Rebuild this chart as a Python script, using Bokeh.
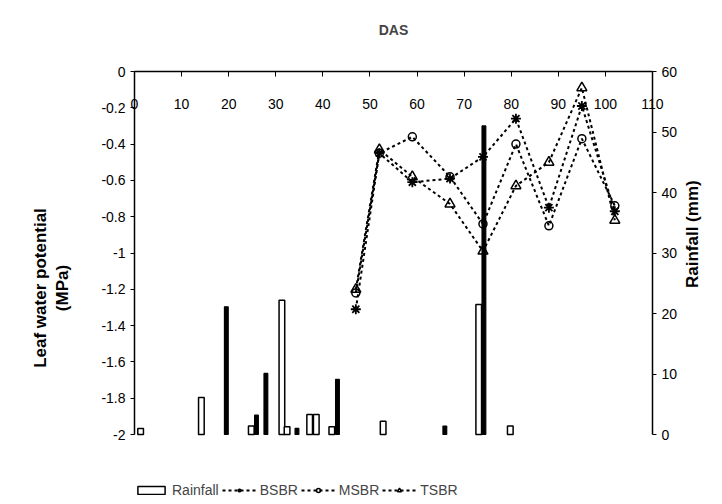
import math
from bokeh.plotting import figure
from bokeh.models import (Range1d, LinearAxis, FixedTicker, CustomJSTickFormatter,
                          Legend, LegendItem)
from bokeh.embed import file_html
from bokeh.resources import INLINE

# ---- data ----
das = [47, 52, 59, 67, 74, 81, 88, 95, 102]
bsbr = [-1.31, -0.45, -0.61, -0.59, -0.47, -0.26, -0.75, -0.19, -0.77]
msbr = [-1.22, -0.45, -0.36, -0.58, -0.84, -0.40, -0.85, -0.37, -0.74]
tsbr = [-1.20, -0.43, -0.58, -0.73, -0.99, -0.63, -0.50, -0.09, -0.82]

rain_open_das = [1.3, 14.2, 24.8, 31.3, 32.4, 37.2, 38.6, 41.9, 52.8, 73.1, 79.8]
rain_open_mm = [1.0, 6.1, 1.4, 22.2, 1.3, 3.3, 3.3, 1.3, 2.2, 21.5, 1.4]
rain_solid_das = [19.5, 25.9, 27.9, 34.5, 43.1, 65.9, 74.2]
rain_solid_mm = [21.1, 3.2, 10.1, 1.0, 9.1, 1.4, 51.0]

das_ticks = [0, 10, 20, 30, 40, 50, 60, 70, 80, 90, 100, 110]
lwp_ticks = [0, -0.2, -0.4, -0.6, -0.8, -1.0, -1.2, -1.4, -1.6, -1.8, -2.0]
rain_ticks = [0, 10, 20, 30, 40, 50, 60]

FONT = "Liberation Sans"

# layout: frame from y=71 to bottom of page; data area (-2..0) occupies 363 px
W, H = 722, 504
TOP, DATA_H = 71, 363
EXTRA_PX = H - TOP - DATA_H  # space below the data area for the legend
lwp_lo = -2 - 2 * EXTRA_PX / DATA_H
rain_lo = -60 * EXTRA_PX / DATA_H

p = figure(width=W, height=H, x_range=Range1d(0, 110), y_range=Range1d(lwp_lo, 0),
           output_backend="svg", toolbar_location=None, x_axis_location=None,
           y_axis_location="left", min_border_left=134, min_border_right=70,
           min_border_top=TOP, min_border_bottom=0)
p.outline_line_color = None
p.xgrid.grid_line_color = None
p.ygrid.grid_line_color = None
p.background_fill_color = "white"
p.border_fill_color = "white"

# second (empty) line lifts the title line toward the top of the page
p.title.text = "DAS\n"
p.title.align = "center"
p.title.text_font = FONT
p.title.text_font_style = "bold"
p.title.text_font_size = "14px"
p.title.standoff = 35

p.extra_y_ranges = {"rain": Range1d(rain_lo, 60)}

# left axis
ya = p.yaxis[0]
ya.bounds = (-2, 0)
ya.ticker = FixedTicker(ticks=lwp_ticks)
ya.formatter = CustomJSTickFormatter(code="return Number(tick.toFixed(1)).toString();")
ya.major_tick_in = 0
ya.major_tick_out = 4
ya.minor_tick_line_color = None
ya.axis_line_width = 1.5
ya.major_label_text_font = FONT
ya.major_label_text_font_size = "14px"
ya.major_label_text_color = "black"
ya.axis_label = "Leaf water potential\n(MPa)"
ya.axis_label_text_font = FONT
ya.axis_label_text_font_style = "bold"
ya.axis_label_text_font_size = "17px"
ya.axis_label_text_color = "black"
ya.axis_label_standoff = 26

# right axis
ra = LinearAxis(y_range_name="rain", ticker=FixedTicker(ticks=rain_ticks),
                axis_label="Rainfall (mm)", bounds=(0, 60))
ra.major_tick_in = 0
ra.major_tick_out = 4
ra.minor_tick_line_color = None
ra.axis_line_width = 1.5
ra.major_label_text_font = FONT
ra.major_label_text_font_size = "14px"
ra.major_label_text_color = "black"
ra.axis_label_text_font = FONT
ra.axis_label_text_font_style = "bold"
ra.axis_label_text_font_size = "17px"
ra.axis_label_text_color = "black"
ra.axis_label_standoff = 12
ra.axis_label_orientation = math.pi / 2
p.add_layout(ra, "right")

# top x axis with labels inside
xa = LinearAxis(ticker=FixedTicker(ticks=das_ticks))
xa.major_tick_in = 5
xa.major_tick_out = 0
xa.minor_tick_line_color = None
xa.axis_line_width = 1.5
xa.major_label_standoff = -37
xa.major_label_text_font = FONT
xa.major_label_text_font_size = "14px"
xa.major_label_text_color = "black"
p.add_layout(xa, "above")

# rainfall bars
r_open = p.vbar(x=rain_open_das, top=rain_open_mm, bottom=0, width=1.2,
                fill_color="white", line_color="black", line_width=1.5,
                y_range_name="rain")
p.vbar(x=rain_solid_das, top=rain_solid_mm, bottom=0, width=0.8,
       fill_color="black", line_color="black", line_width=1.2,
       y_range_name="rain")

# series
dash = "3 3"
l1 = p.line(das, bsbr, line_color="black", line_width=2, line_dash=dash)
m1 = p.scatter(das, bsbr, marker="asterisk", size=10, line_color="black", line_width=1.8)
l2 = p.line(das, msbr, line_color="black", line_width=2, line_dash=dash)
m2 = p.scatter(das, msbr, marker="circle", size=8, line_color="black", line_width=1.5,
               fill_color="white", fill_alpha=0)
l3 = p.line(das, tsbr, line_color="black", line_width=2, line_dash=dash)
m3 = p.scatter(das, tsbr, marker="triangle", size=10, line_color="black", line_width=1.5,
               fill_color="white", fill_alpha=0)

legend = Legend(items=[
    LegendItem(label="Rainfall", renderers=[r_open]),
    LegendItem(label="BSBR", renderers=[l1, m1]),
    LegendItem(label="MSBR", renderers=[l2, m2]),
    LegendItem(label="TSBR", renderers=[l3, m3]),
], orientation="horizontal", location=(0, 6))
legend.border_line_color = None
legend.background_fill_alpha = 0
legend.label_text_font = FONT
legend.label_text_font_size = "14px"
legend.glyph_width = 34
legend.glyph_height = 10
legend.spacing = 3
legend.padding = 0
legend.margin = 0
legend.label_standoff = 4
p.add_layout(legend, "center")

open("out.html", "w").write(file_html(p, INLINE))
